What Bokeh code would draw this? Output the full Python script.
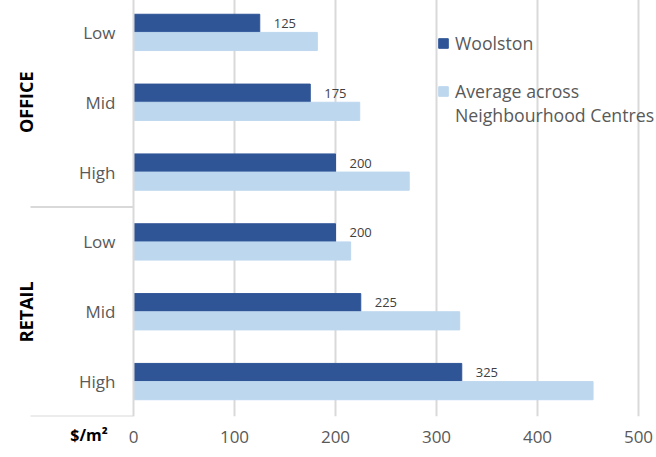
import math
from bokeh.plotting import figure
from bokeh.models import (FactorRange, Range1d, ColumnDataSource, Legend, LegendItem,
                          FixedTicker, LinearAxis, Span)
from bokeh.transform import dodge
from bokeh.core.properties import value
from bokeh.embed import file_html
from bokeh.resources import INLINE

# ---- data ----
groups = ["OFFICE", "OFFICE", "OFFICE", "RETAIL", "RETAIL", "RETAIL"]
levels = ["Low", "Mid", "High", "Low", "Mid", "High"]
woolston = [125, 175, 200, 200, 225, 325]
average = [182, 224, 273, 215, 323, 455]
x_ticks = [0, 100, 200, 300, 400, 500]
series_names = ["Woolston", "Average across", "Neighbourhood Centres"]
group_names = ["OFFICE", "RETAIL"]
unit_label = "$/m²"

# ---- style / layout ----
DARK = "#2F5597"
LIGHT = "#BDD7EE"
GRID = "#D9D9D9"
TXT = "#595959"
FONT = "Open Sans"
W, H = 656, 460
FRAME_H = 419
AXIS_PX = 133            # pixel position of the value axis (x = 0)
PX_PER_UNIT = 1.01       # 500 units span 505 px
UNIT_TICK = -44          # where the unit caption sits on the value scale

cats = [f"{g} {l}" for g, l in zip(groups, levels)]
src = ColumnDataSource(dict(cat=cats, level=levels, woolston=woolston,
                            average=average, wlabel=[str(v) for v in woolston]))
gsrc = ColumnDataSource(dict(group=group_names,
                             mid=[cats[1], cats[4]],
                             last=[cats[2], cats[5]]))

p = figure(width=W, height=H, output_backend="svg", toolbar_location=None,
           y_range=FactorRange(factors=list(reversed(cats)), group_padding=0,
                               factor_padding=0, range_padding=0),
           x_range=Range1d(-AXIS_PX / PX_PER_UNIT, (W - AXIS_PX) / PX_PER_UNIT),
           min_border_left=0, min_border_right=0, min_border_top=0,
           min_border_bottom=H - FRAME_H, margin=(-3, 0, 0, 0))
p.outline_line_color = None
p.background_fill_color = "white"
p.border_fill_color = "white"
p.yaxis.visible = False

# grid
p.ygrid.grid_line_color = None
p.xgrid.grid_line_color = GRID
p.xgrid.grid_line_width = 2
p.xgrid.ticker = FixedTicker(ticks=x_ticks[1:])

# value axis line
p.add_layout(Span(location=0, dimension="height", line_color=GRID, line_width=2))

# bars
r1 = p.hbar(y=dodge("cat", 0.13, range=p.y_range), right="woolston", left=0,
            height=0.26, source=src, fill_color=DARK, line_color=DARK)
r2 = p.hbar(y=dodge("cat", -0.13, range=p.y_range), right="average", left=0,
            height=0.26, source=src, fill_color=LIGHT, line_color=LIGHT)
r_blank = p.hbar(y=[], right=[], left=0, height=0.26, fill_alpha=0, line_alpha=0)

# data labels
p.text(x="woolston", y=dodge("cat", 0.13, range=p.y_range), text="wlabel",
       source=src, x_offset=14, text_align="left", text_baseline="middle",
       text_font=value(FONT), text_font_size="13px", text_color="#404040")

# category labels
p.text(x=0, y="cat", text="level", source=src, x_offset=-18, text_align="right",
       text_baseline="middle", text_font=value(FONT), text_font_size="17px",
       text_color=TXT)

# group labels
p.text(x=0, y="mid", text="group", source=gsrc, x_offset=-108, angle=math.pi / 2,
       text_align="center", text_baseline="middle", text_font=value(FONT),
       text_font_size="18px", text_font_style="bold", text_color="black")

# group separators
p.ray(x=0, y=dodge("last", -0.5, range=p.y_range), source=gsrc, length=103,
      length_units="screen", angle=math.pi, line_color=GRID, line_width=2)

# x axis
xa = p.xaxis[0]
xa.ticker = FixedTicker(ticks=x_ticks)
xa.axis_line_color = None
xa.major_tick_line_color = None
xa.minor_tick_line_color = None
xa.major_tick_out = 0
xa.major_tick_in = 0
xa.major_label_standoff = 14
xa.major_label_text_font = FONT
xa.major_label_text_font_size = "17px"
xa.major_label_text_color = TXT

# unit caption on the same line as the tick labels
ua = LinearAxis(ticker=FixedTicker(ticks=[UNIT_TICK]),
                major_label_overrides={UNIT_TICK: unit_label},
                axis_line_color=None, major_tick_line_color=None,
                minor_tick_line_color=None, major_tick_out=0, major_tick_in=0,
                major_label_standoff=-22, major_label_text_font=FONT,
                major_label_text_font_size="16px", major_label_text_font_style="bold",
                major_label_text_color="black")
p.add_layout(ua, "below")

# legends
common = dict(glyph_width=12, glyph_height=12, label_standoff=6, padding=0,
              margin=0, spacing=0, border_line_color=None, background_fill_alpha=0,
              label_text_font=FONT, label_text_font_size="17.7px",
              label_text_color=TXT)
leg1 = Legend(items=[LegendItem(label=series_names[0], renderers=[r1])],
              location=(437, FRAME_H - 3 - 55), **common)
leg2 = Legend(items=[LegendItem(label=series_names[1], renderers=[r2]),
                     LegendItem(label=series_names[2], renderers=[r_blank])],
              location=(437, FRAME_H - 3 - 127), **common)
p.add_layout(leg1, "center")
p.add_layout(leg2, "center")

open("out.html", "w").write(file_html(p, INLINE))
